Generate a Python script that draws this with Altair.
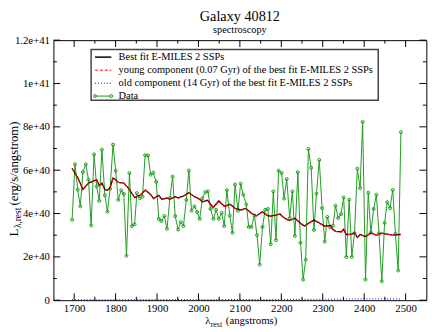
import altair as alt
import pandas as pd

# ---------------- data (luminosity in units of 1e39) ----------------
lam_data = [1695.0, 1702.1, 1708.5, 1714.9, 1721.1, 1728.2, 1734.6, 1741.0, 1748.1, 1754.2,
            1760.6, 1767.0, 1774.1, 1780.3, 1786.7, 1793.8, 1800.2, 1806.4, 1813.5, 1819.9,
            1826.3, 1833.4, 1839.5, 1845.9, 1851.4, 1858.5, 1864.9, 1871.3, 1878.4, 1884.5,
            1890.9, 1898.0, 1904.4, 1910.6, 1917.7, 1924.1, 1931.2, 1937.6, 1943.8, 1950.9,
            1957.3, 1963.7, 1970.8, 1976.9, 1983.3, 1990.4, 1996.8, 2003.0, 2009.4, 2016.5,
            2022.9, 2029.1, 2036.2, 2042.6, 2049.0, 2056.1, 2062.2, 2068.6, 2075.7, 2082.1,
            2088.3, 2095.4, 2101.8, 2108.2, 2115.3, 2121.5, 2127.9, 2135.0, 2141.3, 2147.8,
            2154.6, 2161.0, 2167.4, 2174.5, 2180.7, 2187.1, 2193.5, 2200.6, 2206.7, 2213.1,
            2220.2, 2226.6, 2232.8, 2239.9, 2246.3, 2252.7, 2258.9, 2265.3, 2272.1, 2278.8,
            2284.9, 2291.6, 2298.4, 2304.8, 2311.0, 2317.9, 2324.7, 2330.9, 2337.0, 2344.1,
            2350.5, 2356.9, 2363.8, 2370.2, 2376.6, 2383.5, 2390.1, 2396.3, 2403.2, 2409.8,
            2416.2, 2422.8, 2429.4, 2435.8, 2442.5, 2449.3, 2455.5, 2462.4, 2469.0, 2475.4,
            2482.0, 2488.7]
lum_data = [37.1, 62.7, 51.0, 43.3, 59.1, 62.7, 55.6, 34.5, 67.3, 52.5,
            45.8, 69.5, 48.4, 40.8, 51.4, 71.8, 59.7, 46.3, 50.7, 49.0,
            20.5, 58.7, 34.2, 35.0, 49.4, 47.0, 47.8, 66.9, 66.8, 57.9,
            58.9, 54.6, 37.5, 36.5, 38.9, 33.0, 47.2, 57.1, 38.8, 32.6,
            36.0, 34.2, 46.3, 59.8, 41.3, 43.3, 40.6, 37.5, 47.0, 49.9,
            50.2, 42.1, 37.5, 41.7, 37.5, 40.3, 34.2, 50.8, 39.0, 31.1,
            53.4, 41.3, 53.8, 48.7, 44.2, 33.8, 33.8, 39.0, 30.0, 16.4,
            33.8, 41.7, 42.1, 25.8, 50.2, 27.7, 59.8, 58.7, 46.9, 55.9,
            37.9, 50.2, 29.7, 59.1, 26.5, 9.5, 18.7, 69.8, 61.1, 32.4,
            49.2, 64.7, 42.5, 27.0, 38.4, 33.6, 34.4, 43.6, 37.9, 39.7,
            47.4, 19.9, 46.4, 20.0, 31.0, 60.7, 51.7, 82.3, 9.5, 49.6,
            31.2, 42.1, 48.7, 30.8, 8.7, 35.7, 45.2, 42.5, 50.9, 30.6,
            13.7, 77.5]

lam_fit = [1695.0, 1709.2, 1721.1, 1734.6, 1741.0, 1754.2, 1760.6, 1767.0, 1774.1, 1780.3,
           1786.7, 1793.8, 1800.2, 1806.4, 1819.9, 1833.4, 1845.9, 1858.5, 1872.0, 1884.5,
           1891.6, 1904.4, 1911.5, 1924.1, 1931.2, 1943.8, 1950.9, 1963.7, 1976.9, 1990.4,
           2003.0, 2009.4, 2022.0, 2035.5, 2049.0, 2063.2, 2076.4, 2088.3, 2102.5, 2114.3,
           2127.9, 2140.4, 2153.9, 2167.4, 2173.6, 2187.1, 2196.6, 2206.7, 2219.5, 2232.8,
           2245.6, 2255.8, 2267.6, 2278.8, 2292.0, 2304.8, 2318.1, 2324.5, 2330.9, 2344.1,
           2350.5, 2356.9, 2370.2, 2376.6, 2383.7, 2390.1, 2403.2, 2416.2, 2429.4, 2442.5,
           2455.5, 2469.0, 2482.5, 2488.7]
lum_fit = [60.9, 56.4, 51.1, 54.1, 54.6, 55.6, 52.9, 54.1, 51.1, 50.8,
           51.9, 56.4, 55.6, 54.4, 54.1, 51.1, 47.4, 48.4, 50.8, 48.8,
           46.9, 48.4, 46.6, 47.2, 46.6, 47.8, 47.2, 48.1, 49.6, 47.8,
           46.6, 45.4, 46.1, 42.8, 45.8, 43.3, 44.3, 42.4, 41.7, 42.4,
           40.1, 39.0, 40.8, 39.0, 38.8, 39.3, 39.8, 38.0, 36.8, 37.9,
           35.6, 34.2, 35.7, 37.0, 35.6, 34.2, 34.5, 32.7, 31.8, 31.5,
           32.7, 30.3, 30.5, 31.1, 29.0, 30.3, 29.4, 31.1, 30.0, 31.0,
           30.5, 30.1, 30.3, 30.4]
# young component lies on top of the best fit
lum_young = [60.8, 56.3, 51.0, 54.0, 54.5, 55.5, 52.8, 54.0, 51.0, 50.7,
             51.8, 56.3, 55.5, 54.3, 54.0, 51.0, 47.3, 48.3, 50.7, 48.7,
             46.8, 48.3, 46.5, 47.1, 46.5, 47.7, 47.1, 48.0, 49.5, 47.7,
             46.5, 45.3, 46.0, 42.7, 45.7, 43.2, 44.2, 42.3, 41.6, 42.3,
             40.0, 38.9, 40.7, 38.9, 38.7, 39.2, 39.7, 37.9, 36.7, 37.8,
             35.5, 34.1, 35.6, 36.9, 35.5, 34.1, 34.4, 32.6, 31.7, 31.4,
             32.6, 30.2, 30.4, 31.0, 28.9, 30.2, 29.3, 31.0, 29.9, 30.9,
             30.4, 30.0, 30.2, 30.3]
lam_old = [1695.0, 1800.0, 1900.0, 2000.0, 2100.0, 2200.0, 2300.0, 2350.0, 2400.0, 2450.0, 2488.7]
lum_old = [0.2, 0.2, 0.25, 0.25, 0.3, 0.35, 0.45, 0.55, 0.6, 0.6, 0.5]

x_major = [1700, 1800, 1900, 2000, 2100, 2200, 2300, 2400, 2500]
x_minor = [1750, 1850, 1950, 2050, 2150, 2250, 2350, 2450]
y_major = [0, 20, 40, 60, 80, 100, 120]
y_minor = [10, 30, 50, 70, 90, 110]

title_text = "Galaxy 40812"
subtitle_text = "spectroscopy"
legend_labels = ["Best fit E-MILES 2 SSPs",
                 "young component (0.07 Gyr) of the best fit E-MILES 2 SSPs",
                 "old component (14 Gyr) of the best fit E-MILES 2 SSPs",
                 "Data"]

# ---------------- styling ----------------
UNIT = 1e39
W, H = 380, 265
FONT = "Liberation Serif"
GREEN = "#1e9c1e"

xs = alt.Scale(domain=[1650, 2550], nice=False, zero=False)
ys = alt.Scale(domain=[0, 120 * UNIT], nice=False, zero=False)


def xenc():
    return alt.X("lam:Q", scale=xs, title=None)


def yenc():
    return alt.Y("L:Q", scale=ys, title=None)


def frame(lam, lum):
    return pd.DataFrame({"lam": lam, "L": [v * UNIT for v in lum]})


df_data = frame(lam_data, lum_data)
df_fit = frame(lam_fit, lum_fit)
df_young = frame(lam_fit, lum_young)
df_old = frame(lam_old, lum_old)

x_axis = alt.Axis(values=x_major, format="d", labelFont=FONT, labelFontSize=11,
                  labelPadding=3, labelColor="black", ticks=False, domain=False,
                  grid=False)
y_axis = alt.Axis(values=[v * UNIT for v in y_major],
                  labelExpr="datum.value == 0 ? '0' : replace(format(datum.value, '.1e'), '.0e', 'e')",
                  labelFont=FONT, labelFontSize=11, labelPadding=4, labelColor="black",
                  ticks=False, domain=False, grid=False)

layers = []

data_line = alt.Chart(df_data).mark_line(color=GREEN, strokeWidth=1).encode(
    x=alt.X("lam:Q", scale=xs, axis=x_axis, title=None),
    y=alt.Y("L:Q", scale=ys, axis=y_axis, title=None))
data_pts = alt.Chart(df_data).mark_point(shape="circle", size=9, filled=False, color=GREEN,
                                         strokeWidth=1, opacity=1).encode(x=xenc(), y=yenc())
fit_line = alt.Chart(df_fit).mark_line(color="black", strokeWidth=1.2).encode(x=xenc(), y=yenc())
young_line = alt.Chart(df_young).mark_line(color="red", strokeWidth=1.3, strokeDash=[4, 2]).encode(
    x=xenc(), y=yenc())
old_line = alt.Chart(df_old).mark_line(color="blue", strokeWidth=1, strokeDash=[1, 2]).encode(
    x=xenc(), y=yenc())
layers += [data_line, data_pts, fit_line, young_line, old_line]

# inward ticks on all four sides
for vals, length in [(x_major, 7), (x_minor, 3.5)]:
    d = pd.DataFrame({"lam": vals})
    layers.append(alt.Chart(d).mark_rule(color="black", strokeWidth=1).encode(
        x=xenc(), y=alt.value(H), y2=alt.value(H - length)))
    layers.append(alt.Chart(d).mark_rule(color="black", strokeWidth=1).encode(
        x=xenc(), y=alt.value(0), y2=alt.value(length)))
for vals, length in [(y_major, 7), (y_minor, 3.5)]:
    d = pd.DataFrame({"L": [v * UNIT for v in vals]})
    layers.append(alt.Chart(d).mark_rule(color="black", strokeWidth=1).encode(
        y=yenc(), x=alt.value(0), x2=alt.value(length)))
    layers.append(alt.Chart(d).mark_rule(color="black", strokeWidth=1).encode(
        y=yenc(), x=alt.value(W), x2=alt.value(W - length)))

one = pd.DataFrame({"k": [0]})


def text(s, x, y, size, angle=0, align="left", baseline="middle", color="black"):
    kw = dict(font=FONT, fontSize=size, align=align, baseline=baseline, color=color)
    if angle:
        kw["angle"] = angle
    return alt.Chart(one).mark_text(**kw).encode(
        x=alt.value(x), y=alt.value(y), text=alt.value(s))


# legend box
box_l, box_r, box_t, box_b = 38.4, 331.0, 9.6, 61.3
layers.append(alt.Chart(one).mark_rect(fill="white", stroke="#444444", strokeWidth=1.5).encode(
    x=alt.value(box_l), x2=alt.value(box_r), y=alt.value(box_t), y2=alt.value(box_b)))
rows = [17.3, 30.6, 43.9, 57.0]
s0, s1, tx = 42.4, 59.0, 66.4
styles = [dict(color="black", strokeWidth=1.5),
          dict(color="red", strokeWidth=1, strokeDash=[3, 2]),
          dict(color="blue", strokeWidth=1, strokeDash=[1, 2]),
          dict(color=GREEN, strokeWidth=1)]
for lab, ry, st in zip(legend_labels, rows, styles):
    layers.append(alt.Chart(one).mark_rule(**st).encode(
        x=alt.value(s0), x2=alt.value(s1), y=alt.value(ry)))
    layers.append(text(lab, tx, ry, 10.6))
    if lab == "Data":
        for px in (s0, s1):
            layers.append(alt.Chart(one).mark_point(shape="circle", size=9, filled=False,
                                                    color=GREEN, strokeWidth=1, opacity=1).encode(
                x=alt.value(px), y=alt.value(ry)))

# titles (the page margin keeps them a little lower than in the reference)
layers.append(text(title_text, W / 2, -20.0, 14.5, align="center", baseline="alphabetic"))
layers.append(text(subtitle_text, W / 2, -7.5, 10.5, align="center", baseline="alphabetic"))

# x axis title: lambda_rest (angstroms)
layers.append(text("\u03bb", 154.7, 285.8, 11))
layers.append(text("rest", 160.3, 290.0, 8))
layers.append(text("(angstroms)", 175.7, 285.8, 11))

# y axis title: L_lambda,rest (erg/s/angstrom), rotated
S = 200.0
layers.append(text("L", -40.3, S, 13, angle=270))
layers.append(text("\u03bb,rest", -35.8, S - 8.5, 9.5, angle=270))
layers.append(text("(erg/s/angstrom)", -40.3, S - 31.5, 13, angle=270))

chart = alt.layer(*layers).properties(
    width=W, height=H,
    autosize=alt.AutoSizeParams(type="none"),
    padding={"left": 46.3, "top": 29.7, "right": 1.7, "bottom": 28},
    background="white",
).configure_view(stroke="black", strokeWidth=1)

chart.save("out.html", embed_options={"renderer": "svg", "actions": False})
